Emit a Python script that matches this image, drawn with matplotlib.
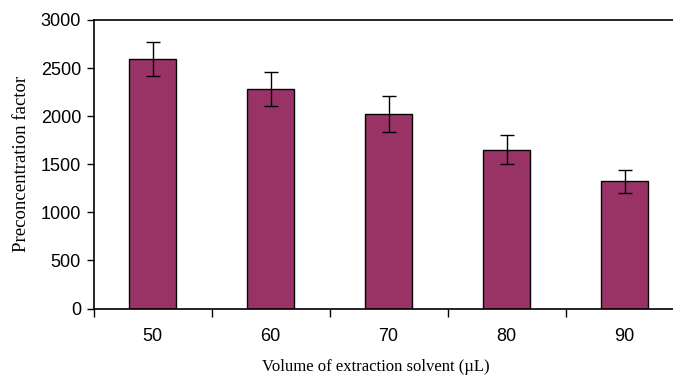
import matplotlib
matplotlib.use("Agg")
import matplotlib.pyplot as plt

volumes = ["50", "60", "70", "80", "90"]
pf_mean = [2595, 2284, 2024, 1650, 1321]
pf_err = [178, 180, 190, 150, 120]

bar_color = "#993366"

fig = plt.figure(figsize=(6.73, 3.79), dpi=100)
# axes runs a little past the right edge, like the original crop
ax = fig.add_axes([93.5 / 673, (379 - 308.5) / 379, 590 / 673, 288.5 / 379])

x = range(len(volumes))
ax.bar(x, pf_mean, width=0.405, color=bar_color, edgecolor="black", linewidth=1.0,
       yerr=pf_err, error_kw=dict(ecolor="black", elinewidth=1.0, capsize=5, capthick=1.0))

ax.set_xlim(-0.5, len(volumes) - 0.5)
ax.set_ylim(0, 3000)
ax.set_yticks(range(0, 3001, 500))
ax.set_xticks(list(x))
ax.set_xticklabels(volumes)
# category boundary ticks
ax.set_xticks([i - 0.5 for i in range(len(volumes) + 1)], minor=True)
ax.tick_params(axis="x", which="major", length=0, pad=14)
ax.tick_params(axis="x", which="minor", length=6, width=1.0, direction="out")
ax.tick_params(axis="y", length=5, width=1.0, direction="out", pad=4)

for lab in ax.get_xticklabels() + ax.get_yticklabels():
    lab.set_fontfamily("Liberation Sans")
    lab.set_fontsize(13)

ax.spines["right"].set_visible(False)
for s in ["left", "bottom", "top"]:
    ax.spines[s].set_linewidth(1.2)

ax.set_ylabel("Preconcentration factor", family="Liberation Serif", fontsize=13.5)
ax.set_xlabel("Volume of extraction solvent (\u00b5L)", family="Liberation Serif", fontsize=12)
ax.yaxis.set_label_coords(-0.122, 0.5)
ax.xaxis.set_label_coords(0.479, -0.175)
ax.yaxis.label.set_verticalalignment("center")

plt.savefig("out.png", dpi=100)
